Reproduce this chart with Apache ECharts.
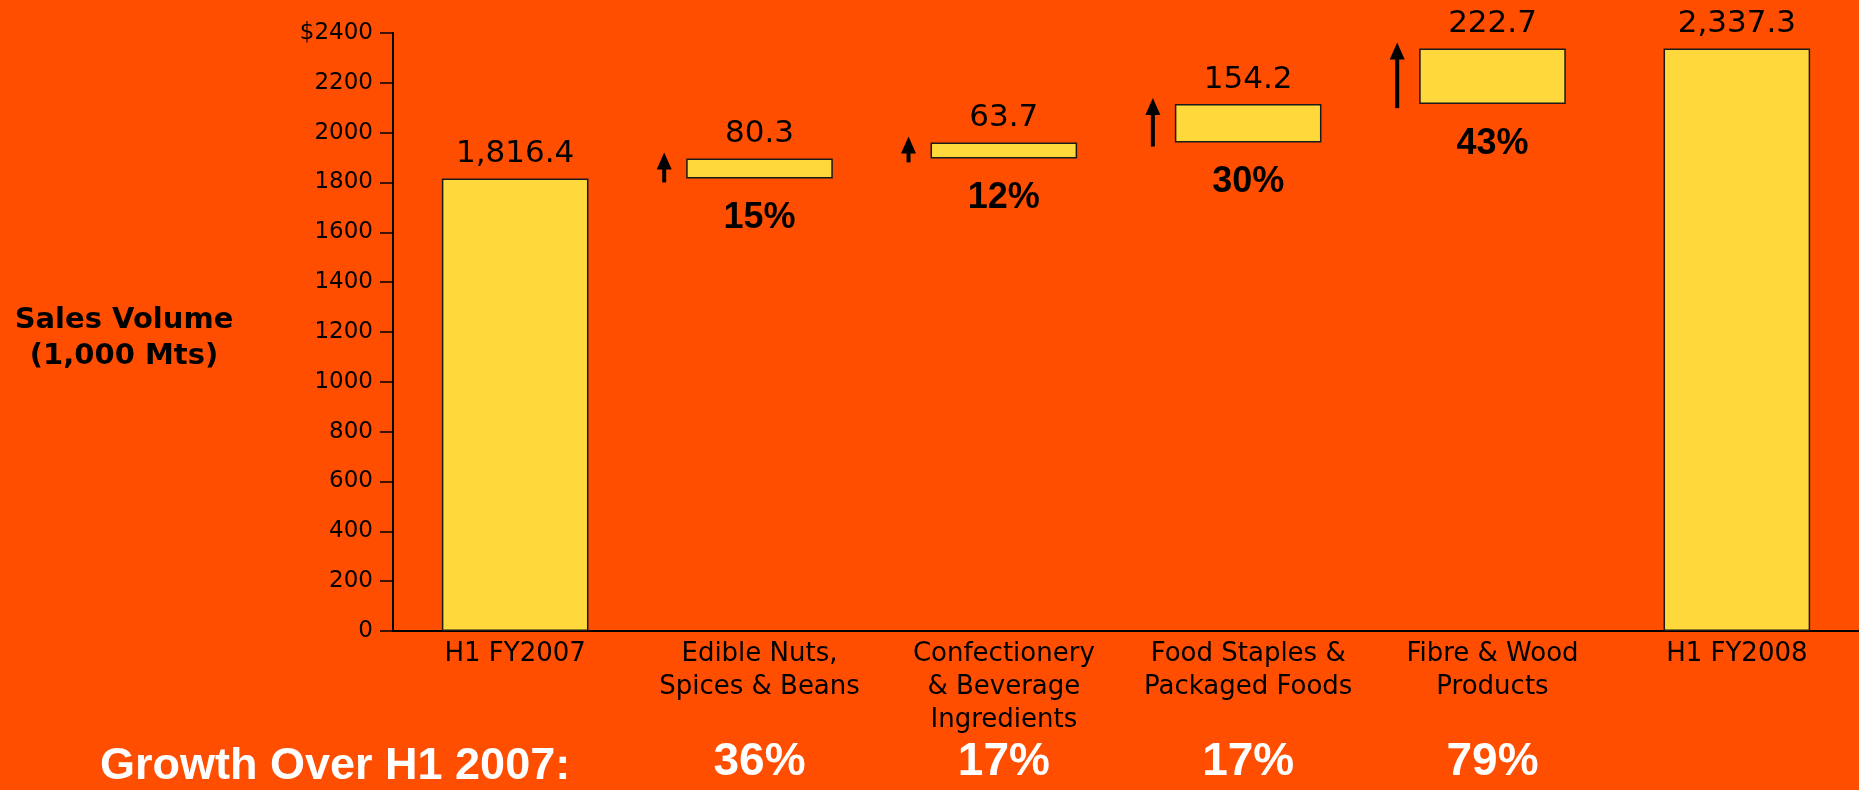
<!DOCTYPE html>
<html>
<head>
<meta charset="utf-8">
<script src="https://cdn.jsdelivr.net/npm/echarts@6/dist/echarts.min.js"></script>
<style>
  html, body { margin: 0; padding: 0; background: #FF4E00; }
  #chart { width: 1859px; height: 790px; }
</style>
</head>
<body>
<div id="chart"></div>
<script>
// ---- data ----
const categories = [
  'H1 FY2007',
  'Edible Nuts,\nSpices & Beans',
  'Confectionery\n& Beverage\nIngredients',
  'Food Staples &\nPackaged Foods',
  'Fibre & Wood\nProducts',
  'H1 FY2008'
];
const barValues = [1816.4, 80.3, 63.7, 154.2, 222.7, 2337.3];
const isTotal = [true, false, false, false, false, true];
const changePct = ['', '15%', '12%', '30%', '43%', ''];
const growthLabels = ['', '36%', '17%', '17%', '79%', ''];
const growthTitle = 'Growth Over H1 2007:';
const yAxisTitle = 'Sales Volume\n(1,000 Mts)';
const yMin = 0, yMax = 2400, yInterval = 200;

// ---- derived waterfall offsets ----
const baseValues = [];
let running = 0;
for (let i = 0; i < barValues.length; i++) {
  if (isTotal[i]) { baseValues.push(0); running = barValues[i]; }
  else { baseValues.push(+running.toFixed(1)); running += barValues[i]; }
}
const arrowData = [];
for (let i = 0; i < barValues.length; i++) {
  if (!isTotal[i]) arrowData.push([i, baseValues[i], +(baseValues[i] + barValues[i]).toFixed(1)]);
}

const fmt = v => Number(v).toLocaleString('en-US', {minimumFractionDigits: 1, maximumFractionDigits: 1});

const chart = echarts.init(document.getElementById('chart'), null, {renderer: 'canvas'});
chart.setOption({
  backgroundColor: '#FF4E00',
  animation: false,
  grid: { left: 393, right: 0, top: 33, bottom: 159 },
  xAxis: [{
    type: 'category',
    data: categories,
    axisLine: { lineStyle: { color: '#000', width: 2 } },
    axisTick: { show: false },
    axisLabel: {
      color: '#000', fontFamily: 'DejaVu Sans', fontSize: 26, lineHeight: 33,
      margin: 7, interval: 0
    }
  }, {
    type: 'category',
    data: growthLabels,
    position: 'bottom',
    offset: 108,
    axisLine: { show: false },
    axisTick: { show: false },
    axisLabel: {
      color: '#fff', fontFamily: 'Liberation Sans', fontWeight: 'bold', fontSize: 46,
      margin: 0, interval: 0
    }
  }],
  yAxis: {
    type: 'value',
    min: yMin, max: yMax, interval: yInterval,
    splitLine: { show: false },
    axisLine: { show: true, lineStyle: { color: '#000', width: 2 } },
    axisTick: { show: true, length: 13, lineStyle: { color: '#000', width: 1.5 } },
    axisLabel: {
      color: '#000', fontFamily: 'DejaVu Sans', fontSize: 23, margin: 20,
      formatter: v => (v === yMax ? '$' + v : String(v))
    }
  },
  graphic: [{
    type: 'text',
    left: 6, top: 302,
    style: {
      text: yAxisTitle, fill: '#000', font: 'bold 29px "DejaVu Sans"',
      textAlign: 'center', lineHeight: 36, width: 236
    }
  }, {
    type: 'text',
    left: 100, top: 744,
    style: {
      text: growthTitle, fill: '#fff', font: 'bold 45px "Liberation Sans"'
    }
  }],
  series: [{
    name: 'base',
    type: 'bar',
    stack: 'w',
    xAxisIndex: 0,
    barWidth: '60%',
    data: baseValues,
    itemStyle: { color: 'rgba(0,0,0,0)' },
    emphasis: { disabled: true },
    label: {
      show: true,
      position: 'insideTop',
      distance: 22,
      color: '#000',
      fontFamily: 'Liberation Sans',
      fontWeight: 'bold',
      fontSize: 36,
      formatter: p => changePct[p.dataIndex]
    }
  }, {
    name: 'value',
    type: 'bar',
    stack: 'w',
    xAxisIndex: 0,
    barWidth: '60%',
    data: barValues,
    itemStyle: { color: '#FFD83B', borderColor: '#1a1a1a', borderWidth: 1.5 },
    label: {
      show: true,
      position: 'top',
      distance: 9,
      color: '#000',
      fontFamily: 'DejaVu Sans',
      fontSize: 31,
      formatter: p => fmt(p.value)
    }
  }, {
    name: 'arrows',
    type: 'custom',
    xAxisIndex: 0,
    data: arrowData,
    encode: { x: 0, y: [1, 2] },
    clip: false,
    renderItem: function (params, api) {
      const idx = api.value(0);
      const lo = api.coord([idx, api.value(1)]);
      const hi = api.coord([idx, api.value(2)]);
      const band = api.size([1, 0])[0];
      const x = lo[0] - band * 0.3 - 22;
      const yTail = lo[1] + 4;
      const yTip = hi[1] - 6;
      return {
        type: 'group',
        children: [{
          type: 'line',
          shape: { x1: x, y1: yTail, x2: x, y2: yTip + 12 },
          style: { stroke: '#000', lineWidth: 4 }
        }, {
          type: 'polygon',
          shape: { points: [[x, yTip], [x - 7.5, yTip + 17], [x + 7.5, yTip + 17]] },
          style: { fill: '#000' }
        }]
      };
    }
  }]
});
</script>
</body>
</html>
